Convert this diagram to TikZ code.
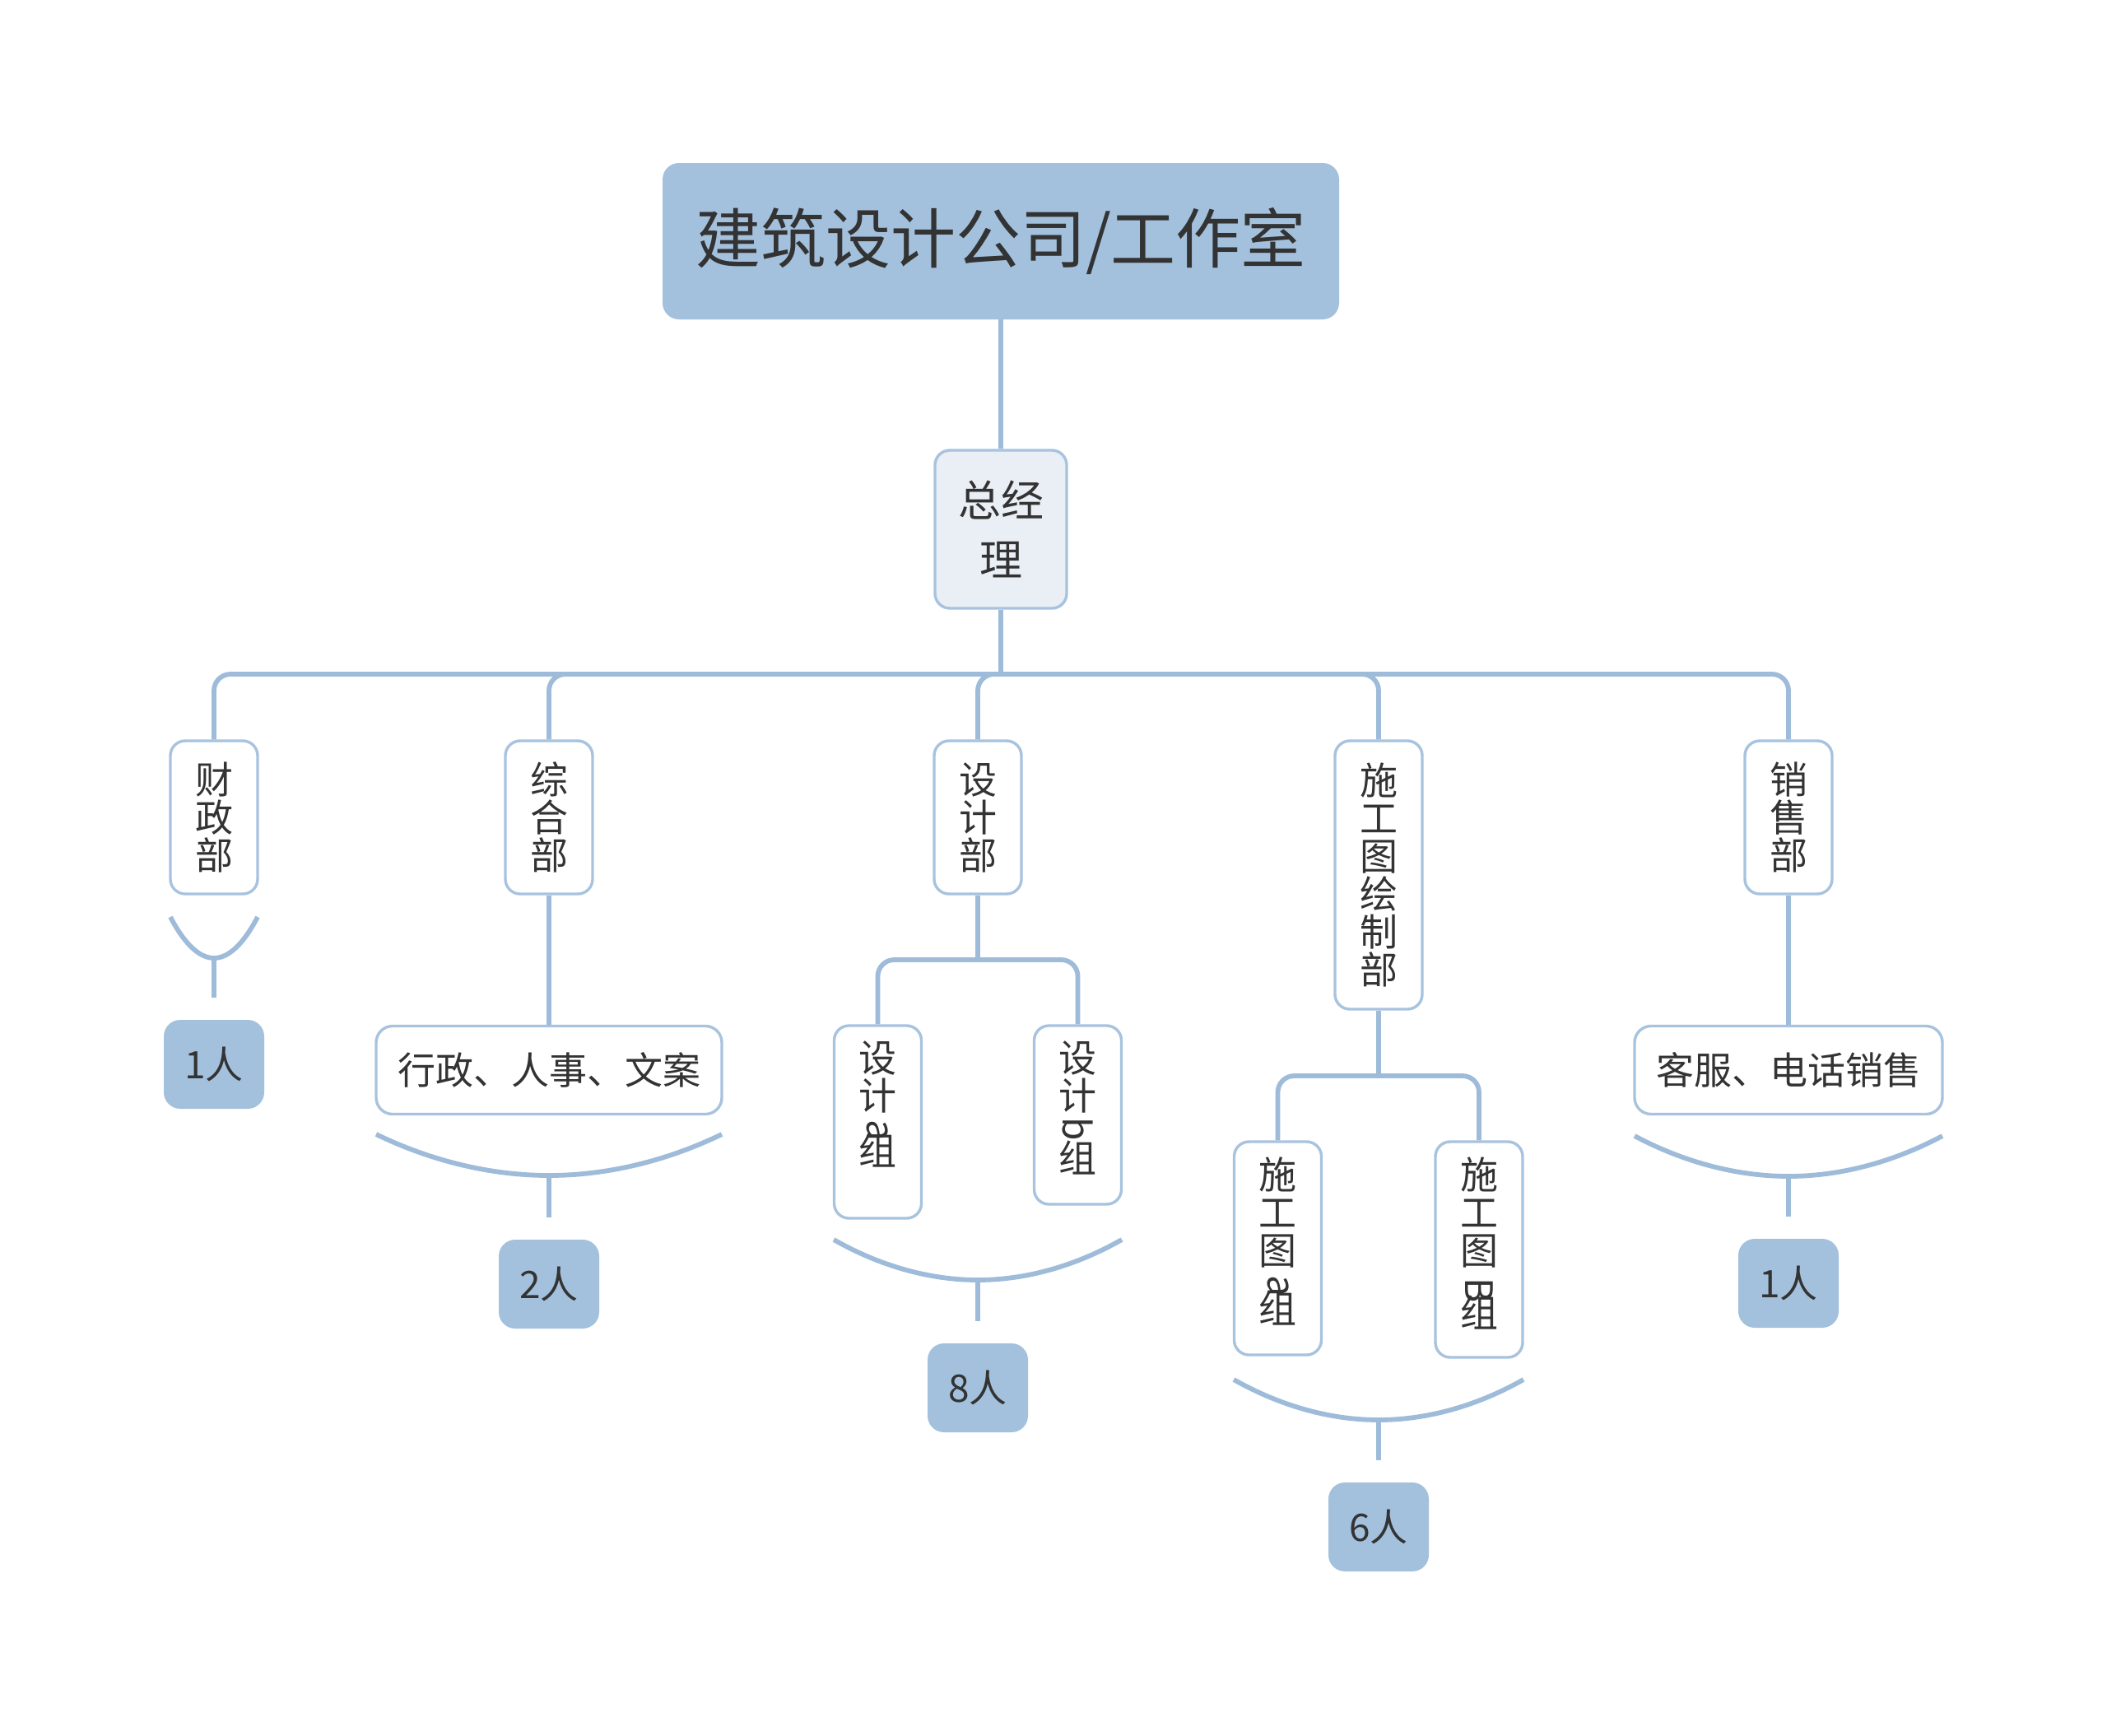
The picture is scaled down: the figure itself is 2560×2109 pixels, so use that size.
\documentclass[tikz,border=0pt]{standalone}
\usepackage{fontspec}
\setmainfont{Noto Sans CJK SC}
\usetikzlibrary{calc}
\definecolor{lc}{HTML}{9EBCD9}
\definecolor{bc}{HTML}{A8C3DE}
\definecolor{rootfill}{HTML}{A3C1DD}
\definecolor{gmfill}{HTML}{E9EFF5}
\definecolor{tc}{HTML}{333333}
% rotated Latin letter placed over the following CJK character
\newcommand\vlat[2]{\makebox[0pt][l]{\makebox[23pt]{\smash{\raisebox{#1}{\rotatebox[origin=c]{-90}{#2}}}}}}
\begin{document}
\begin{tikzpicture}[x=0.5pt,y=-0.5pt,
  conn/.style={draw=lc,line width=2.9pt},
  bracecurve/.style={draw=lc,line width=2.9pt},
  rootbox/.style={fill=rootfill,draw=none,rounded corners=10pt,minimum width=411pt,minimum height=95pt,inner sep=0pt,font=\fontsize{39.5}{40}\selectfont,text=tc},
  gmbox/.style={fill=gmfill,draw=bc,line width=1.7pt,rounded corners=9pt,minimum width=80pt,minimum height=96pt,inner sep=0pt,align=center,font=\fontsize{26}{36}\selectfont,text=tc},
  vbox/.style={fill=white,draw=bc,line width=1.7pt,rounded corners=9pt,minimum width=53pt,inner sep=0pt,align=center,font=\fontsize{23}{23}\selectfont,text=tc},
  vtext/.style={inner sep=0pt,align=center,font=\fontsize{23}{23}\selectfont,text=tc,anchor=north},
  hbox/.style={fill=white,draw=bc,line width=1.7pt,rounded corners=10pt,minimum height=53.5pt,inner sep=0pt,font=\fontsize{23}{23}\selectfont,text=tc},
  sumbox/.style={fill=rootfill,draw=none,rounded corners=10pt,minimum width=61pt,minimum height=54pt,inner sep=0pt,font=\fontsize{23}{23}\selectfont,text=tc},
]
\useasboundingbox (0,0) rectangle (2560,2109);
\fill[white] (0,0) rectangle (2560,2109);

% nodes
\node[rootbox] (root) at (1216,293) {建筑设计公司/工作室};
\node[gmbox] (gm) at (1216,643) {总经\\理};

\node[vbox,minimum height=93pt] (cz) at (260,993) {财\\政\\部};
\node[vbox,minimum height=93pt] (zh) at (667,993) {综\\合\\部};
\node[vbox,minimum height=93pt] (sj) at (1188,993) {设\\计\\部};
\node[vbox,minimum height=163pt] (sg) at (1675,1063) {施\\工\\图\\绘\\制\\部};
\node[vbox,minimum height=93pt] (xs) at (2173,993) {销\\售\\部};

\node[hbox,minimum width=210pt] (xz) at (667,1300) {行政、人事、文案};
\node[hbox,minimum width=187pt] (kf) at (2173,1300) {客服、电话销售};

\node[vbox,minimum height=117pt] (sja) at (1066.5,1363) {};
\node[vbox,minimum height=108.5pt] (sjb) at (1309.5,1354.5) {};
\node[vbox,minimum height=129.5pt] (sga) at (1552.5,1516.5) {};
\node[vbox,minimum height=131pt] (sgb) at (1797,1518) {};
\node[vtext] (sjat) at ($(sja.north)+(0,20)$) {设\\计\\[10.5pt]\vlat{15pt}{a}组};
\node[vtext] (sjbt) at ($(sjb.north)+(0,20)$) {设\\计\\[15pt]\vlat{17.5pt}{b}组};
\node[vtext] (sgat) at ($(sga.north)+(0,20)$) {施\\工\\图\\[12.5pt]\vlat{16pt}{a}组};
\node[vtext] (sgbt) at ($(sgb.north)+(0,20)$) {施\\工\\图\\[15pt]\vlat{14pt}{B}组};

\node[sumbox] (s1) at (260,1293) {1人};
\node[sumbox] (s2) at (667,1560) {2人};
\node[sumbox] (s3) at (1188,1686) {8人};
\node[sumbox] (s4) at (1675,1855) {6人};
\node[sumbox] (s5) at (2173,1559) {1人};

% main connectors
\draw[conn] (root.south) -- (gm.north);
\coordinate (bus) at (1216,819);
\draw[conn] (gm.south) -- (bus);
\draw[conn,rounded corners=10pt] (bus) -- (cz.north |- bus) -- (cz.north);
\draw[conn,rounded corners=10pt] (bus) -- (zh.north |- bus) -- (zh.north);
\draw[conn,rounded corners=10pt] (bus) -- (sj.north |- bus) -- (sj.north);
\draw[conn,rounded corners=10pt] (bus) -- (sg.north |- bus) -- (sg.north);
\draw[conn,rounded corners=10pt] (bus) -- (xs.north |- bus) -- (xs.north);

% sub-branches
\coordinate (j1) at (1188,1166);
\draw[conn] (sj.south) -- (j1);
\draw[conn,rounded corners=10pt] (j1) -- (sja.north |- j1) -- (sja.north);
\draw[conn,rounded corners=10pt] (j1) -- (sjb.north |- j1) -- (sjb.north);
\coordinate (j2) at (1675,1307);
\draw[conn] (sg.south) -- (j2);
\draw[conn,rounded corners=10pt] (j2) -- (sga.north |- j2) -- (sga.north);
\draw[conn,rounded corners=10pt] (j2) -- (sgb.north |- j2) -- (sgb.north);
\draw[conn] (zh.south) -- (xz.north);
\draw[conn] (xs.south) -- (kf.north);

% summary braces
\coordinate (b1l) at (207,1114); \coordinate (b1) at (260,1164); \coordinate (b1r) at (313,1114);
\draw[bracecurve] (b1l) parabola bend (b1) (b1r);
\draw[conn] (b1) -- ($(s1.north)+(0,-27)$);

\coordinate (b2l) at (457,1378); \coordinate (b2) at (667,1428); \coordinate (b2r) at (877,1378);
\draw[bracecurve] (b2l) parabola bend (b2) (b2r);
\draw[conn] (b2) -- ($(s2.north)+(0,-27)$);

\coordinate (b3l) at (1013,1506); \coordinate (b3) at (1188,1555); \coordinate (b3r) at (1363,1506);
\draw[bracecurve] (b3l) parabola bend (b3) (b3r);
\draw[conn] (b3) -- ($(s3.north)+(0,-27)$);

\coordinate (b4l) at (1499,1676); \coordinate (b4) at (1675,1725); \coordinate (b4r) at (1851,1676);
\draw[bracecurve] (b4l) parabola bend (b4) (b4r);
\draw[conn] (b4) -- ($(s4.north)+(0,-27)$);

\coordinate (b5l) at (1986,1380); \coordinate (b5) at (2173,1429); \coordinate (b5r) at (2360,1380);
\draw[bracecurve] (b5l) parabola bend (b5) (b5r);
\draw[conn] (b5) -- ($(s5.north)+(0,-27)$);
\end{tikzpicture}
\end{document}
